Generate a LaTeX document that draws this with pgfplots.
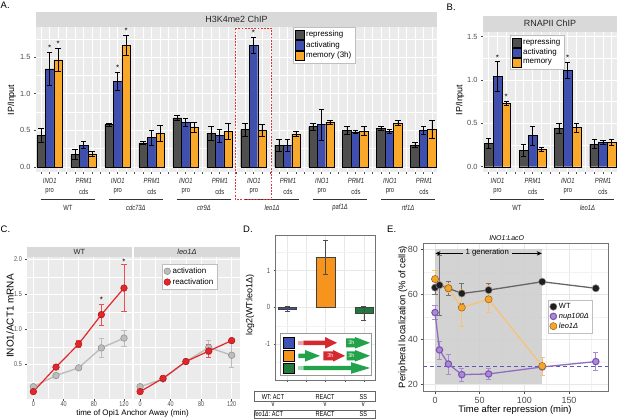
\documentclass[border=0pt]{standalone}
\usepackage{pgfplots}
\pgfplotsset{compat=1.18}
\usepackage{fontspec}
\setmainfont{Liberation Sans}
\newfontfamily\narrow{Liberation Sans}[FakeStretch=0.78]
\usetikzlibrary{arrows.meta}
\definecolor{ggbg}{HTML}{EBEBEB}
\definecolor{ggstrip}{HTML}{D9D9D9}
\definecolor{rep}{HTML}{4F4F4F}
\definecolor{act}{HTML}{3F4FAE}
\definecolor{mem}{HTML}{F9A82A}
\definecolor{cgray}{HTML}{BDBDBD}
\definecolor{cgrayd}{HTML}{8A8A8A}
\definecolor{cred}{HTML}{E4262B}
\definecolor{credd}{HTML}{A81418}
\definecolor{dblue}{HTML}{3F51B5}
\definecolor{dorange}{HTML}{F7941E}
\definecolor{dgreen}{HTML}{1F7A3C}
\definecolor{agreen}{HTML}{22A34B}
\definecolor{agreenl}{HTML}{9FD8AE}
\definecolor{ared}{HTML}{D42A2F}
\definecolor{aredl}{HTML}{F2A0A0}
\definecolor{epurple}{HTML}{7E52B5}
\definecolor{epurplel}{HTML}{A98BD3}
\definecolor{eorange}{HTML}{F6A52A}
\definecolor{eorangel}{HTML}{F8C274}
\definecolor{edash}{HTML}{5A5AB8}
\definecolor{boxred}{HTML}{E2343B}
\newcommand{\fs}[1]{\fontsize{#1}{#1}\selectfont}
\newcommand{\iarrow}[6]{\fill[#6] (#1,#4-#5) -- (#2,#4-#5) -- (#2,#4-5.8) -- (#3,#4) -- (#2,#4+5.8) -- (#2,#4+#5) -- (#1,#4+#5) -- cycle;}
\pgfplotsset{
  every axis/.append style={scale only axis, clip=false, tick align=outside, tick pos=left,
    major tick length=2bp, minor tick length=0bp,
    /pgf/number format/assume math mode=true, axis line style={draw=none}},
  gg/.style={axis background/.style={fill=ggbg}, grid=both,
    major grid style={white, line width=0.8pt}, minor grid style={white, line width=0.4pt},
    tick style={black!70, line width=0.5pt}, tick label style={text=black!70}},
  bw/.style={axis background/.style={fill=white}, grid=both,
    major grid style={black!9, line width=0.6pt}, minor grid style={black!5, line width=0.35pt},
    tick style={black!70, line width=0.5pt}, tick label style={text=black!70},
    axis line style={draw=black!55, line width=0.6pt}},
  eb/.style={/pgfplots/error bars/y dir=both, /pgfplots/error bars/y explicit,
    /pgfplots/error bars/error mark=-,
    /pgfplots/error bars/error bar style={line width=0.65pt, color=#1, draw=#1},
    /pgfplots/error bars/error mark options={rotate=90, color=#1, draw=#1, line width=0.7pt, mark size=2.6bp}},
  eb/.default=black,
  barlegend/.style={legend image code/.code={\draw[##1,draw=black,line width=0.4pt] (0bp,-4.6bp) rectangle (9bp,4.6bp);}},
  circlegend/.style={legend image code/.code={\draw[##1] plot coordinates {(4.5bp,0bp)};}},
}
\begin{document}
\begin{tikzpicture}
\path[use as bounding box] (0,0) rectangle (617bp,-419bp);

% ---------------- Panel A
\begin{axis}[gg, at={(36bp,-27bp)}, anchor=north west, width=401bp, height=145bp,
  xmin=-0.4, xmax=11.4, ymin=-0.068, ymax=1.91,
  ybar=0pt, bar width=8.5bp,
  xtick={-0.25,0,...,11.25}, xticklabels={},
  ytick={0,0.5,1,1.5}, minor ytick={0.25,0.75,1.25,1.75},
  yticklabel style={font=\fs{7.5}, /pgf/number format/.cd, fixed, fixed zerofill, precision=1},
  barlegend,
  legend style={at={(0.641,0.997)}, anchor=north west, draw=black!25, line width=0.4pt, fill=white,
    font=\fs{8}, inner xsep=1.5bp, inner ysep=1.5bp, row sep=-0.8bp},
  legend cell align=left]
\addplot[fill=rep, draw=black, line width=0.4pt, eb] coordinates {
 (0,0.43)+-(0,0.10) (1,0.17)+-(0,0.07) (2,0.58)+-(0,0.02) (3,0.33)+-(0,0.02)
 (4,0.67)+-(0,0.04) (5,0.46)+-(0,0.10) (6,0.51)+-(0,0.09) (7,0.30)+-(0,0.08)
 (8,0.55)+-(0,0.05) (9,0.50)+-(0,0.05) (10,0.53)+-(0,0.03) (11,0.30)+-(0,0.03)};
\addlegendentry{repressing}
\addplot[fill=act, draw=black, line width=0.4pt, eb] coordinates {
 (0,1.34)+-(0,0.22) (1,0.30)+-(0,0.05) (2,1.17)+-(0,0.12) (3,0.40)+-(0,0.10)
 (4,0.61)+-(0,0.06) (5,0.43)+-(0,0.09) (6,1.66)+-(0,0.11) (7,0.30)+-(0,0.08)
 (8,0.58)+-(0,0.21) (9,0.48)+-(0,0.02) (10,0.49)+-(0,0.03) (11,0.50)+-(0,0.05)};
\addlegendentry{activating}
\addplot[fill=mem, draw=black, line width=0.4pt, eb] coordinates {
 (0,1.46)+-(0,0.16) (1,0.18)+-(0,0.03) (2,1.66)+-(0,0.13) (3,0.46)+-(0,0.11)
 (4,0.54)+-(0,0.07) (5,0.49)+-(0,0.11) (6,0.50)+-(0,0.08) (7,0.45)+-(0,0.03)
 (8,0.61)+-(0,0.03) (9,0.49)+-(0,0.06) (10,0.60)+-(0,0.03) (11,0.51)+-(0,0.12)};
\addlegendentry{memory (3h)}
\node[font=\fs{8}, anchor=base] at (axis cs:0,1.59) {*};
\node[font=\fs{8}, anchor=base] at (axis cs:0.25,1.65) {*};
\node[font=\fs{8}, anchor=base] at (axis cs:2,1.32) {*};
\node[font=\fs{8}, anchor=base] at (axis cs:2.25,1.82) {*};
\node[font=\fs{8}, anchor=base] at (axis cs:6,1.80) {*};
\end{axis}

% ---------------- Panel B
\begin{axis}[gg, at={(483bp,-31.7bp)}, anchor=north west, width=134bp, height=140.3bp,
  xmin=-0.41, xmax=3.40, ymin=-0.061, ymax=1.557,
  ybar=0pt, bar width=8.8bp,
  xtick={-0.25,0,...,3.25}, xticklabels={},
  ytick={0,0.5,1,1.5}, minor ytick={0.25,0.75,1.25},
  yticklabel style={font=\fs{7.5}, /pgf/number format/.cd, fixed, fixed zerofill, precision=1},
  barlegend,
  legend style={at={(0.2015,0.976)}, anchor=north west, draw=black!25, line width=0.4pt, fill=white,
    font=\fs{8}, inner xsep=1.5bp, inner ysep=1.5bp, row sep=-0.8bp},
  legend cell align=left]
\addplot[fill=rep, draw=black, line width=0.4pt, eb] coordinates {
 (0,0.27)+-(0,0.06) (1,0.19)+-(0,0.07) (2,0.44)+-(0,0.06) (3,0.26)+-(0,0.05)};
\addlegendentry{repressing}
\addplot[fill=act, draw=black, line width=0.4pt, eb] coordinates {
 (0,1.04)+-(0,0.17) (1,0.36)+-(0,0.11) (2,1.11)+-(0,0.09) (3,0.28)+-(0,0.02)};
\addlegendentry{activating}
\addplot[fill=mem, draw=black, line width=0.4pt, eb] coordinates {
 (0,0.73)+-(0,0.02) (1,0.20)+-(0,0.02) (2,0.45)+-(0,0.05) (3,0.28)+-(0,0.03)};
\addlegendentry{memory}
\node[font=\fs{8}, anchor=base] at (axis cs:0,1.23) {*};
\node[font=\fs{8}, anchor=base] at (axis cs:0.25,0.77) {*};
\node[font=\fs{8}, anchor=base] at (axis cs:2,1.22) {*};
\end{axis}

% ---------------- Panel C (WT)
\begin{axis}[gg, at={(27.3bp,-257.3bp)}, anchor=north west, width=104.4bp, height=142bp,
  xmin=-8, xmax=130.2, ymin=0, ymax=2.03,
  xtick={0,40,80,120}, minor xtick={20,60,100},
  ytick={0.5,1,1.5,2}, minor ytick={0.25,0.75,1.25,1.75},
  yticklabels={0.5,1.0,1.5,2.0},
  tick label style={font=\narrow\fs{7}},
  xticklabel style={inner sep=0.5bp}]
\addplot[forget plot, only marks, mark=none, eb=cgray] coordinates {(90,0.735)+-(0,0.135) (120,0.875)+-(0,0.115)};
\addplot[forget plot, only marks, mark=none, eb=cred!80] coordinates {(60,0.79)+-(0,0.05) (90,1.21)+-(0,0.15) (120,1.59)+-(0,0.335)};
\addplot[cgray, line width=1.4pt, mark=*, mark size=3.3bp, mark options={fill=cgray, draw=cgrayd, line width=0.5pt}]
  coordinates {(0,0.18) (30,0.34) (60,0.45) (90,0.735) (120,0.875)};
\addplot[cred, line width=1.2pt, mark=*, mark size=3.3bp, mark options={fill=cred, draw=credd, line width=0.5pt}]
  coordinates {(0,0.11) (30,0.46) (60,0.79) (90,1.21) (120,1.59)};
\node[font=\fs{8}, anchor=base] at (axis cs:90,1.38) {*};
\node[font=\fs{8}, anchor=base] at (axis cs:120,1.92) {*};
\end{axis}

% ---------------- Panel C (leo1)
\begin{axis}[gg, at={(134bp,-257.3bp)}, anchor=north west, width=106bp, height=142bp,
  xmin=-8, xmax=130.9, ymin=0, ymax=2.03,
  xtick={0,40,80,120}, minor xtick={20,60,100},
  ytick={0.5,1,1.5,2}, minor ytick={0.25,0.75,1.25,1.75},
  yticklabels={}, ytick style={draw=none},
  tick label style={font=\narrow\fs{7}},
  xticklabel style={inner sep=0.5bp},
  circlegend,
  legend style={at={(0.267,0.953)}, anchor=north west, draw=black!25, line width=0.4pt, fill=white,
    font=\fs{8}, inner xsep=1.5bp, inner ysep=1.5bp, row sep=-0.5bp},
  legend cell align=left]
\addplot[forget plot, only marks, mark=none, eb=cgray] coordinates {(90,0.74)+-(0,0.10) (120,0.63)+-(0,0.17)};
\addplot[forget plot, only marks, mark=none, eb=cred!80] coordinates {(90,0.69)+-(0,0.09)};
\addplot[cgray, line width=1.4pt, mark=*, mark size=3.3bp, mark options={fill=cgray, draw=cgrayd, line width=0.5pt}]
  coordinates {(0,0.18) (30,0.29) (60,0.54) (90,0.74) (120,0.63)};
\addlegendentry{activation}
\addplot[cred, line width=1.2pt, mark=*, mark size=3.3bp, mark options={fill=cred, draw=credd, line width=0.5pt}]
  coordinates {(0,0.11) (30,0.30) (60,0.54) (90,0.69) (120,0.84)};
\addlegendentry{reactivation}
\end{axis}

% ---------------- Panel D
\begin{axis}[bw, at={(275.7bp,-235bp)}, anchor=north west, width=100bp, height=145bp,
  xmin=0.69, xmax=3.31, ymin=-1.98, ymax=1.97,
  xtick={1,1.5,2,2.5,3}, xticklabels={},
  ytick={-1,0,1}, yticklabels={-1,0,1}, minor ytick={-1.5,-0.5,0.5,1.5},
  tick label style={font=\narrow\fs{7.5}}]
\addplot[ybar, bar width=18.3bp, bar shift=0pt, fill=dblue, draw=black!75, line width=0.4pt, eb=black!70]
  coordinates {(1,-0.04)+-(0,0.08)};
\addplot[ybar, bar width=18.3bp, bar shift=0pt, fill=dorange, draw=black!75, line width=0.4pt, eb=black!70]
  coordinates {(2,1.36)+-(0,0.46)};
\addplot[ybar, bar width=18.3bp, bar shift=0pt, fill=dgreen, draw=black!75, line width=0.4pt, eb=black!70]
  coordinates {(3,-0.16)+-(0,0.20)};
\end{axis}

% ---------------- Panel E
\begin{axis}[bw, at={(423.3bp,-243.3bp)}, anchor=north west, width=185bp, height=148.4bp,
  xmin=-13.1, xmax=194, ymin=16.7, ymax=82.7,
  xtick={0,50,100,150}, minor xtick={25,75,125,175},
  ytick={20,40,60,80}, minor ytick={30,50,70},
  tick label style={font=\fs{9}},
  circlegend,
  legend style={at={(0.676,0.618)}, anchor=north west, draw=black!25, line width=0.4pt, fill=white,
    font=\fs{7.5}, inner xsep=1.2bp, inner ysep=1.2bp, row sep=-1bp},
  legend cell align=left]
\fill[black!20, fill opacity=0.85] (axis cs:0,20) rectangle (axis cs:120,80);
\draw[-{Stealth[length=5bp,width=4.5bp]}, line width=0.6pt] (axis cs:31,78.2) -- (axis cs:0.5,78.2);
\draw[-{Stealth[length=5bp,width=4.5bp]}, line width=0.6pt] (axis cs:86,78.2) -- (axis cs:119.5,78.2);
\node[font=\fs{7.8}] at (axis cs:58.5,78.4) {1 generation};
\addplot[forget plot, edash, line width=0.8pt, dash pattern=on 4bp off 3bp] coordinates {(-13.1,28.1) (194,28.1)};
\addplot[forget plot, only marks, mark=none, eb=black!55] coordinates {(0,63)+-(0,3) (5,64.1)+-(0,13.3) (15,62.7)+-(0,3.3) (30,60.4)+-(0,4.3) (60,61.9)+-(0,3)};
\addplot[black!60, line width=1.3pt, mark=*, mark size=3.6bp, mark options={fill=black!88, draw=black!45, line width=0.5pt}]
  coordinates {(0,63) (5,64.1) (15,62.7) (30,60.4) (60,61.9) (120,65.6) (180,62.7)};
\addlegendentry{WT}
\addplot[forget plot, only marks, mark=none, eb=epurplel] coordinates {(0,51.9)+-(0,3.2) (5,35.3)+-(0,4) (15,29.0)+-(0,4.5) (30,24.3)+-(0,2.8) (60,24.6)+-(0,2.5) (180,30.1)+-(0,4)};
\addplot[epurple!85, line width=1.3pt, mark=*, mark size=3.2bp, mark options={fill=epurplel, draw=epurple, line width=1.1pt}]
  coordinates {(0,51.9) (5,35.3) (15,29.0) (30,24.3) (60,24.6) (120,27.7) (180,30.1)};
\addlegendentry{\textit{nup100Δ}}
\addplot[forget plot, only marks, mark=none, eb=eorangel] coordinates {(0,66.8)+-(0,3.7) (15,62.7)+-(0,2) (30,54.1)+-(0,8.3) (60,57.8)+-(0,6) (120,28.1)+-(0,4)};
\addplot[eorangel, line width=1.3pt, mark=*, mark size=3.6bp, mark options={fill=eorange, draw=eorange!60!black, line width=0.5pt}]
  coordinates {(0,66.8) (15,62.7) (30,54.1) (60,57.8) (120,28.1)};
\addlegendentry{\textit{leo1Δ}}
\end{axis}

% ---------------- annotations
\begin{scope}[x=1bp,y=-1bp]
\node[font=\fs{9.5}, anchor=base west, inner sep=0] at (0.5,8.3) {A.};
\node[font=\fs{9.5}, anchor=base west, inner sep=0] at (446.5,10) {B.};
\node[font=\fs{9.5}, anchor=base west, inner sep=0] at (0.5,232) {C.};
\node[font=\fs{9.5}, anchor=base west, inner sep=0] at (243,232) {D.};
\node[font=\fs{9.5}, anchor=base west, inner sep=0] at (387,232) {E.};
% strips
\fill[ggstrip] (36,12.3) rectangle (437,27);
\node[font=\fs{9}, text=black!85] at (236.5,19.7) {H3K4me2 ChIP};
\fill[ggstrip] (483,15.7) rectangle (617,31.7);
\node[font=\fs{9}, text=black!85] at (550,23.7) {RNAPII ChIP};
\fill[ggstrip] (27.3,247.3) rectangle (131.7,257.3);
\node[font=\fs{7.5}, text=black!85] at (79.5,252.3) {WT};
\fill[ggstrip] (134,247.3) rectangle (240,257.3);
\node[font=\fs{7.5}\itshape, text=black!85] at (187,252.3) {leo1Δ};
% axis titles
\node[rotate=90, font=\fs{9}] at (11.7,100) {IP/Input};
\node[rotate=90, font=\fs{9}] at (460,100) {IP/Input};
\node[rotate=90, font=\fs{10}] at (10,316) {INO1/ACT1 mRNA};
\node[font=\fs{8}] at (132.5,413.3) {time of Opi1 Anchor Away (min)};
\node[rotate=90, font=\fs{9}] at (250,305) {log2(WT:leo1Δ)};
\node[rotate=90, font=\fs{9.5}] at (403,317) {Peripheral localization (\% of cells)};
\node[font=\fs{9.5}] at (515,410) {Time after repression (min)};
\node[font=\fs{7}\itshape] at (506.7,237.7) {INO1:LacO};
% A group labels
\foreach \g in {0,2,...,10} {
  \pgfmathsetmacro\xx{49.7+34.03*\g}
  \node[font=\narrow\fs{7.5}\itshape, text=black!85] at (\xx,181) {INO1};
  \node[font=\narrow\fs{7.5}, text=black!85] at (\xx,191.7) {pro};
}
\foreach \g in {1,3,...,11} {
  \pgfmathsetmacro\xx{49.7+34.03*\g}
  \node[font=\narrow\fs{7.5}\itshape, text=black!85] at (\xx,181) {PRM1};
  \node[font=\narrow\fs{7.5}, text=black!85] at (\xx,191.7) {cds};
}
\foreach \k in {0,...,5} {
  \pgfmathsetmacro\cc{66.7+68.06*\k}
  \draw[black!80, line width=0.6pt] (\cc-26,199.3) -- (\cc+28.3,199.3);
}
\node[font=\narrow\fs{7.5}, text=black!85] at (67.8,207.7) {WT};
\foreach \k/\s in {1/cdc73Δ,2/ctr9Δ,3/leo1Δ,4/paf1Δ,5/rtf1Δ} {
  \pgfmathsetmacro\cc{67.8+68.06*\k}
  \node[font=\narrow\fs{7.5}\itshape, text=black!85] at (\cc,207.7) {\s};
}
% B group labels
\foreach \g in {0,2} {
  \pgfmathsetmacro\xx{497.5+35.17*\g}
  \node[font=\narrow\fs{7.5}\itshape, text=black!85] at (\xx,181) {INO1};
  \node[font=\narrow\fs{7.5}, text=black!85] at (\xx,191.7) {pro};
}
\foreach \g in {1,3} {
  \pgfmathsetmacro\xx{497.5+35.17*\g}
  \node[font=\narrow\fs{7.5}\itshape, text=black!85] at (\xx,181) {PRM1};
  \node[font=\narrow\fs{7.5}, text=black!85] at (\xx,191.7) {cds};
}
\draw[black!80, line width=0.6pt] (490.1,199.3) -- (544.1,199.3);
\draw[black!80, line width=0.6pt] (560.4,199.3) -- (614.4,199.3);
\node[font=\narrow\fs{7.5}, text=black!85] at (517,207.7) {WT};
\node[font=\narrow\fs{7.5}\itshape, text=black!85] at (587.5,207.7) {leo1Δ};
% red dashed box
\draw[boxred, line width=0.8pt, dash pattern=on 1.8bp off 1.4bp] (235,28.3) rectangle (271.7,199);
% D inset
\fill[white] (280,333.3) rectangle (371.7,375);
\draw[black!40, line width=0.5pt] (280,333.3) rectangle (371.7,375);
\draw[fill=dblue, draw=black, line width=0.4pt] (282.7,337.3) rectangle (294,348.3);
\draw[fill=dorange, draw=black, line width=0.4pt] (282.7,350.3) rectangle (294,361.3);
\draw[fill=dgreen, draw=black, line width=0.4pt] (282.7,362.7) rectangle (294,373.3);
% row 1
\fill[aredl] (298.3,340.8) rectangle (303.3,344.8);
\iarrow{303.3}{325}{337}{342.8}{2.2}{ared}
\iarrow{346}{355}{370}{342.8}{4.5}{agreen}
\node[font=\fs{5.5}, text=white, inner sep=0] at (351.5,342.8) {3h};
% row 2
\iarrow{298.3}{305}{320}{355.8}{2.2}{agreen}
\iarrow{323.3}{333}{345}{355.8}{4.5}{ared}
\node[font=\fs{5.5}, text=white, inner sep=0] at (330.5,355.8) {3h};
\iarrow{346.7}{355}{370}{355.8}{4.5}{agreen}
\node[font=\fs{5.5}, text=white, inner sep=0] at (351.5,355.8) {3h};
% row 3
\fill[agreenl] (298.3,366) rectangle (303.3,370);
\iarrow{303.3}{351}{370}{368}{2.2}{agreen}
% D bottom labels
\draw[black!60, line width=0.5pt] (254,391.7) rectangle (375,401.7);
\node[font=\narrow\fs{7.2}] at (273,396.7) {WT: ACT};
\node[font=\narrow\fs{7.2}] at (325,396.7) {REACT};
\node[font=\narrow\fs{7.2}] at (363.3,396.7) {SS};
\node[font=\narrow\fs{7.2}] at (273,404.5) {v};
\node[font=\narrow\fs{7.2}] at (325,404.5) {v};
\node[font=\narrow\fs{7.2}] at (363.3,404.5) {v};
\draw[black!60, line width=0.5pt] (254,410) rectangle (375,418.3);
\node[font=\narrow\fs{7.2}] at (268.7,414.2) {\textit{leo1Δ}: ACT};
\node[font=\narrow\fs{7.2}] at (325,414.2) {REACT};
\node[font=\narrow\fs{7.2}] at (363.3,414.2) {SS};
\end{scope}
\end{tikzpicture}
\end{document}
